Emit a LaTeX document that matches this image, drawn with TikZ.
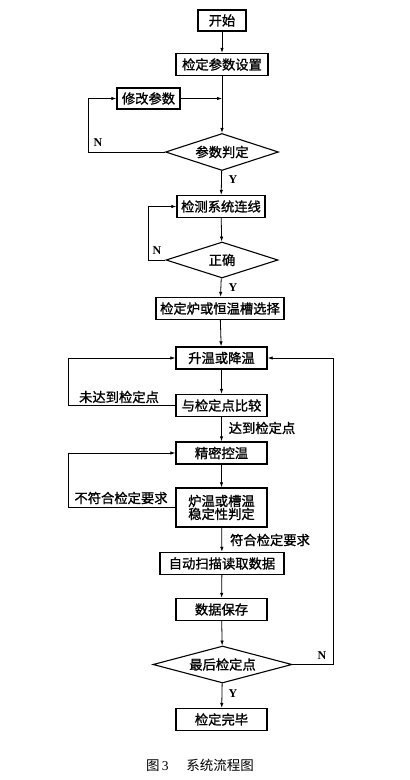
\documentclass[tikz,border=0pt]{standalone}
\usepackage{fontspec}
\setmainfont{Liberation Serif}
\newfontfamily\cjk[FakeBold=1.2]{Noto Sans CJK SC}
\newfontfamily\cjkcap{Noto Sans CJK SC}
\usetikzlibrary{shapes.geometric,arrows.meta}
\begin{document}
\begin{tikzpicture}[x=1pt,y=-1pt,
  box/.style={draw,line width=1.4pt,minimum height=22pt,inner sep=1pt,font=\cjk\fontsize{13.3}{15}\selectfont},
  dec/.style={draw,line width=1.1pt,diamond,aspect=3,inner sep=0pt,font=\cjk\fontsize{13.3}{15}\selectfont},
  arr/.style={line width=0.8pt,-{Latex[length=5pt,width=3.5pt]}},
  lab/.style={font=\cjk\fontsize{13.3}{15}\selectfont,inner sep=0pt},
  yn/.style={font=\bfseries\fontsize{12}{14}\selectfont,inner sep=0pt}]
\useasboundingbox (0,0) rectangle (410,780);
\fill[white] (0,0) rectangle (410,780);

\node[box,minimum width=48pt,minimum height=21pt] (start) at (222,20.5) {开始};
\node[box,minimum width=92pt] (setp) at (222,64.5) {检定参数设置};
\node[box,minimum width=63pt,minimum height=21pt] (mod) at (148.5,98.5) {修改参数};
\node[dec,minimum width=113pt,minimum height=37pt] (pd) at (222,152) {参数判定};
\node[box,minimum width=88pt] (conn) at (221,206.5) {检测系统连线};
\node[dec,minimum width=112pt,minimum height=36pt] (ok) at (222,260) {正确};
\node[box,minimum width=128pt] (sel) at (220,308.5) {检定炉或恒温槽选择};
\node[box,minimum width=91pt] (heat) at (221.5,358) {升温或降温};
\node[box,minimum width=91pt] (cmp) at (221.5,405.5) {与检定点比较};
\node[box,minimum width=91pt] (ctrl) at (221.5,453) {精密控温};
\node[box,minimum width=91pt,minimum height=39pt,align=center] (stab) at (221.5,507.5) {炉温或槽温\\[-2pt]稳定性判定};
\node[box,minimum width=124pt] (scan) at (222,563.5) {自动扫描读取数据};
\node[box,minimum width=91pt] (save) at (221.5,609.5) {数据保存};
\node[dec,minimum width=139pt,minimum height=37pt] (last) at (222.5,664.5) {最后检定点};
\node[box,minimum width=91pt] (done) at (221.5,719.5) {检定完毕};

\coordinate (j1) at (222,98.5);

\draw[arr] (start) -- (setp);
\draw[arr] (setp) -- (pd);
\draw[arr] (mod.east) -- (j1);
\draw[arr] (pd.west) -- (88,152) |- (mod.west);
\draw[arr] (pd) -- (conn);
\draw[arr] (conn) -- (ok);
\draw[arr] (ok.west) -- (148,260) |- (conn.west);
\draw[arr] (ok) -- (sel);
\draw[arr] (sel) -- (heat);
\draw[arr] (heat) -- (cmp);
\draw[arr] (cmp.west) -- (68,405.5) |- (heat.west);
\draw[arr] (cmp) -- (ctrl);
\draw[arr] (ctrl) -- (stab);
\draw[arr] (stab.west) -- (68,507.5) |- (ctrl.west);
\draw[arr] (stab) -- (scan);
\draw[arr] (scan) -- (save);
\draw[arr] (save) -- (last);
\draw[arr] (last.east) -- (333,664.5) |- (heat.east);
\draw[arr] (last) -- (done);

\node[yn] (n1) at (98,143) {N};
\node[yn] (y1) at (233,180) {Y};
\node[yn] (n2) at (157,251) {N};
\node[yn] (y2) at (233,288) {Y};
\node[yn] (n3) at (322,656) {N};
\node[yn] (y3) at (233,694) {Y};

\node[lab] (l1) at (119,397) {未达到检定点};
\node[lab] (l2) at (262,428) {达到检定点};
\node[lab] (l3) at (121,498) {不符合检定要求};
\node[lab] (l4) at (270,540) {符合检定要求};

\node[font=\fontsize{13.5}{15}\selectfont,inner sep=0pt] (cap) at (200,765) {{\cjkcap 图}\,3\hspace{1.3em}{\cjkcap 系统流程图}};
\end{tikzpicture}
\end{document}
